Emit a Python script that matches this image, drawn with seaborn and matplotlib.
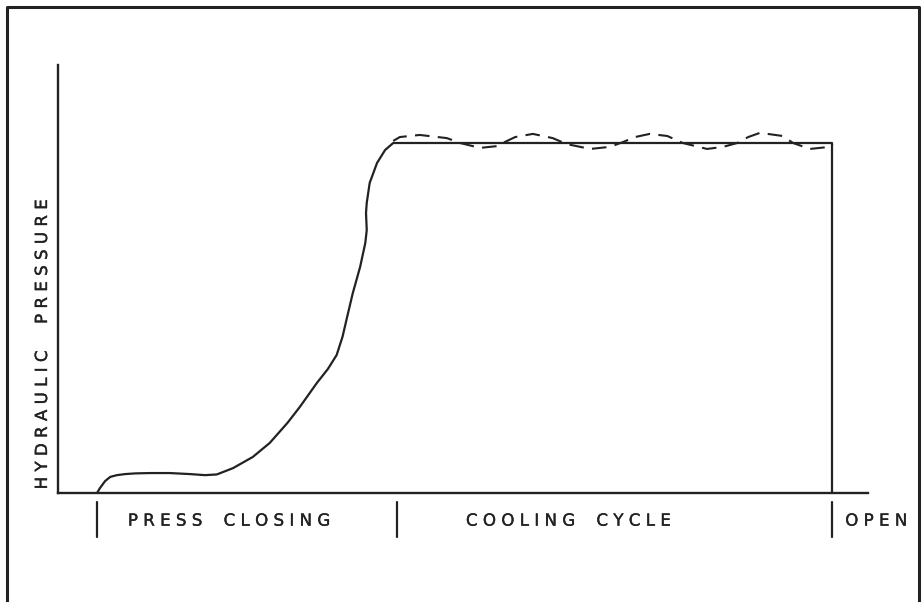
import numpy as np
import pandas as pd
import seaborn as sns
import matplotlib.pyplot as plt
import matplotlib.patheffects as pe

sns.set_style('white')
plt.rcParams['font.family'] = ['DejaVu Sans']

INK = '#222222'

# pressure curve (time 0..100, plateau pressure = 100)
main_t = [0, 0.4, 1.1, 1.8, 2.7, 3.8, 5.2, 7.2, 9.9, 12.7, 14.7, 16.3, 18.5, 21.2,
          23.5, 25.9, 27.6, 29.9, 31.4, 32.6, 33.4, 34.0, 34.8, 35.8, 36.5, 36.7,
          36.6, 36.7, 37.1, 38.1, 39.2, 40.3, 100, 100]
main_p = [0, 1.4, 3.4, 4.6, 5.1, 5.4, 5.6, 5.7, 5.7, 5.4, 5.1, 5.3, 7.1, 10.3,
          14.3, 20.0, 24.6, 31.4, 35.4, 39.4, 44.6, 50.0, 57.1, 64.6, 71.4, 75.1,
          80.0, 82.9, 88.6, 94.3, 98.0, 100, 100, 0]

# fluctuating pressure during cooling (dashed)
wave_t = [40.3, 41.2, 43.9, 47.6, 49.4, 52.1, 54.4, 55.2, 56.9, 59.3, 62.0, 63.9,
          67.1, 69.8, 71.6, 73.2, 75.2, 77.6, 79.7, 83.0, 85.2, 87.1, 88.6, 90.2,
          93.3, 94.7, 97.0, 99.7, 100.1]
wave_p = [100.6, 101.7, 102.3, 101.4, 100, 98.6, 99.1, 100, 101.7, 102.6, 101.4, 99.7,
          98.3, 98.9, 100.3, 101.7, 102.6, 102.0, 100, 98.3, 98.9, 100, 101.7, 102.9,
          102.0, 100, 98.3, 98.9, 99.7]

phase_bounds = [0, 40.8, 100]
phase_labels = ['P R E S S    C L O S I N G', 'C O O L I N G    C Y C L E', 'O P E N']
label_t = [4.2, 50.2, 101.8]

fig = plt.figure(figsize=(9.22, 6.02), dpi=100)
fig.patch.set_facecolor('white')
W, H = 922, 602
ax = fig.add_axes([58 / W, (H - 493) / H, (868 - 58) / W, (493 - 65) / H])

sns.lineplot(x=main_t, y=main_p, sort=False, estimator=None, color=INK,
             linewidth=1.6, ax=ax)
sns.lineplot(x=wave_t, y=wave_p, sort=False, estimator=None, color=INK,
             linewidth=1.5, linestyle=(0, (7, 4)), ax=ax)

ax.set_xlim(-39 / 7.35, 771 / 7.35)
ax.set_ylim(0, 428 / 3.5)
ax.set_xticks([])
ax.set_yticks([])
ax.set_xlabel('')
ax.set_ylabel('')
for s in ['top', 'right']:
    ax.spines[s].set_visible(False)
for s in ['left', 'bottom']:
    ax.spines[s].set_color(INK)
    ax.spines[s].set_linewidth(1.7)

heavy = [pe.withStroke(linewidth=0.25, foreground=INK)]

# phase separators below the axis
for b in phase_bounds:
    ax.plot([b, b], [-2.6, -12.6], color=INK, linewidth=1.6, clip_on=False)
for t, lab in zip(label_t, phase_labels):
    ax.text(t, -7.9, lab, ha='left', va='center', fontsize=12, color=INK,
            path_effects=heavy)

fig.text(42 / W, 1 - 345 / H, 'H Y D R A U L I C     P R E S S U R E',
         rotation=90, ha='center', va='center', fontsize=12, color=INK,
         path_effects=heavy)

# outer frame, open at the bottom
fx = [7 / W, 7 / W, 919 / W, 919 / W]
fy = [0, 1 - 7 / H, 1 - 7 / H, 0]
fig.add_artist(plt.Line2D(fx, fy, transform=fig.transFigure, color=INK, linewidth=2.2))

fig.savefig('out.png', dpi=100)
